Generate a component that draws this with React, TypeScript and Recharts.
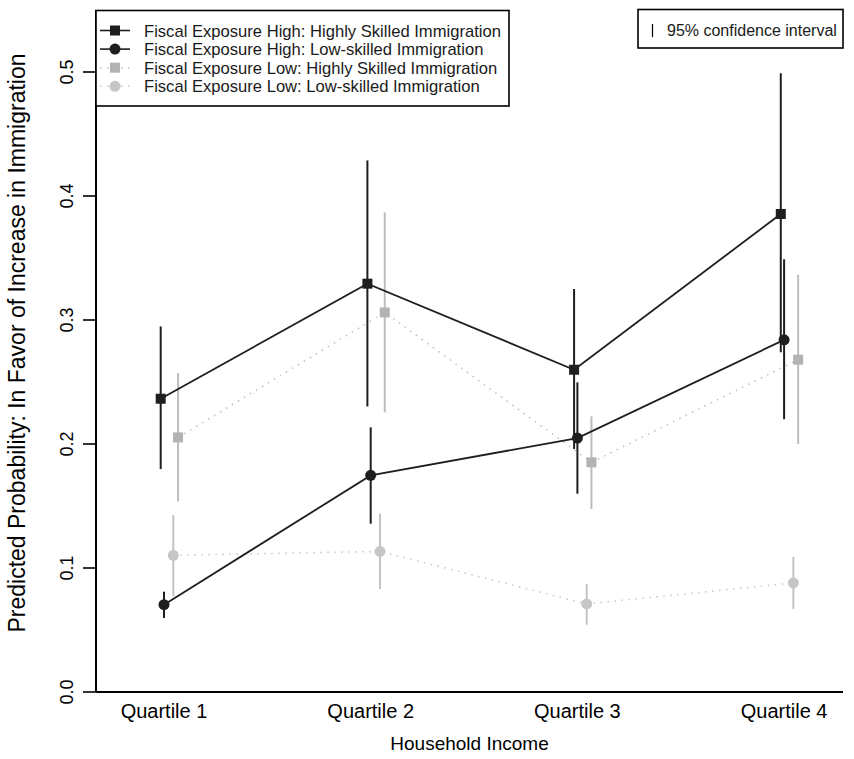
import React from 'react';
import { ComposedChart, Scatter, ErrorBar, XAxis, YAxis } from 'recharts';

const categories = ['Quartile 1', 'Quartile 2', 'Quartile 3', 'Quartile 4'];
const yTicks = [0, 0.1, 0.2, 0.3, 0.4, 0.5];

// fiscal exposure high
const highHighSkilled = [0.2365, 0.3293, 0.2599, 0.3855];
const highHighSkilledLo = [0.1798, 0.2303, 0.196, 0.274];
const highHighSkilledHi = [0.2948, 0.4287, 0.325, 0.499];
const highLowSkilled = [0.0704, 0.1747, 0.2048, 0.284];
const highLowSkilledLo = [0.0597, 0.1357, 0.1599, 0.22];
const highLowSkilledHi = [0.0809, 0.2134, 0.2497, 0.349];

// fiscal exposure low
const lowHighSkilled = [0.2053, 0.3061, 0.1852, 0.268];
const lowHighSkilledLo = [0.1537, 0.2255, 0.1476, 0.2];
const lowHighSkilledHi = [0.2572, 0.3868, 0.2223, 0.3365];
const lowLowSkilled = [0.1102, 0.1134, 0.071, 0.088];
const lowLowSkilledLo = [0.0771, 0.0831, 0.0543, 0.067];
const lowLowSkilledHi = [0.1427, 0.1438, 0.0871, 0.109];

const FONT = '"Liberation Sans", Arial, Helvetica, sans-serif';
const DARK = '#1e1e1e';

type Series = {
  name: string;
  est: number[];
  lo: number[];
  hi: number[];
  shift: number;
  shape: 'square' | 'circle';
  fill: string;
  barColor: string;
  lineColor: string;
  dash?: string;
};

const series: Series[] = [
  { name: 'Fiscal Exposure High: Highly Skilled Immigration', est: highHighSkilled, lo: highHighSkilledLo, hi: highHighSkilledHi, shift: -0.016, shape: 'square', fill: DARK, barColor: DARK, lineColor: DARK },
  { name: 'Fiscal Exposure High: Low-skilled Immigration', est: highLowSkilled, lo: highLowSkilledLo, hi: highLowSkilledHi, shift: 0, shape: 'circle', fill: DARK, barColor: DARK, lineColor: DARK },
  { name: 'Fiscal Exposure Low: Highly Skilled Immigration', est: lowHighSkilled, lo: lowHighSkilledLo, hi: lowHighSkilledHi, shift: 0.068, shape: 'square', fill: '#b3b3b3', barColor: '#bdbdbd', lineColor: '#c2c2c2', dash: '1.5 5.5' },
  { name: 'Fiscal Exposure Low: Low-skilled Immigration', est: lowLowSkilled, lo: lowLowSkilledLo, hi: lowLowSkilledHi, shift: 0.045, shape: 'circle', fill: '#c6c6c6', barColor: '#c2c2c2', lineColor: '#c8c8c8', dash: '1.5 5.5' },
];

const toRows = (s: Series) =>
  categories.map((c, i) => ({
    x: i + 1 + s.shift,
    y: s.est[i],
    ci: [s.est[i] - s.lo[i], s.hi[i] - s.est[i]],
  }));

const marker = (s: Series) => (p: any) =>
  s.shape === 'square' ? (
    <rect x={p.cx - 5} y={p.cy - 5} width={10} height={10} fill={s.fill} />
  ) : (
    <circle cx={p.cx} cy={p.cy} r={5.5} fill={s.fill} />
  );

const YTick = (p: any) => (
  <text
    transform={`translate(${p.x - 8},${p.y}) rotate(-90)`}
    textAnchor="middle"
    fontSize={18}
    fontFamily={FONT}
    fill="#000"
  >
    {p.payload.value.toFixed(1)}
  </text>
);

const XTick = (p: any) => (
  <text x={p.x} y={p.y + 26} textAnchor="middle" fontSize={20} fontFamily={FONT} fill="#000">
    {categories[Math.round(p.payload.value) - 1]}
  </text>
);

const LegendOverlay = () => (
  <svg width={854} height={759} style={{ position: 'absolute', left: 0, top: 0, pointerEvents: 'none' }}>
    <rect x={96} y={10.5} width={413} height={95.5} fill="#fff" stroke="#000" strokeWidth={1.6} />
    {series.map((s, i) => {
      const cy = 30.5 + i * 18.6;
      return (
        <g key={s.name}>
          <line x1={100} x2={130} y1={cy} y2={cy} stroke={s.lineColor} strokeWidth={1.6} strokeDasharray={s.dash} />
          {s.shape === 'square' ? (
            <rect x={110} y={cy - 5} width={10} height={10} fill={s.fill} />
          ) : (
            <circle cx={115} cy={cy} r={5.5} fill={s.fill} />
          )}
          <text x={144} y={cy + 6} fontSize={16.6} fontFamily={FONT} fill="#1a1a1a">
            {s.name}
          </text>
        </g>
      );
    })}
    <rect x={638} y={9.5} width={205} height={38.5} fill="#fff" stroke="#000" strokeWidth={1.6} />
    <line x1={652.5} x2={652.5} y1={24} y2={37} stroke="#000" strokeWidth={1.2} />
    <text x={667} y={36} fontSize={16} fontFamily={FONT} fill="#1a1a1a">
      95% confidence interval
    </text>
  </svg>
);

export default function App() {
  return (
    <div style={{ position: 'absolute', left: 0, top: 0, width: 854, height: 759, background: '#fff' }}>
      <ComposedChart width={854} height={759} margin={{ top: 10, right: 11, bottom: 0, left: 0 }}>
        <XAxis
          type="number"
          dataKey="x"
          domain={[0.671, 4.285]}
          ticks={[1, 2, 3, 4]}
          tick={<XTick />}
          tickLine={false}
          tickSize={0}
          tickMargin={0}
          height={67}
          axisLine={{ stroke: '#000', strokeWidth: 2 }}
          allowDataOverflow
          label={({ viewBox }: any) => (
            <text
              x={viewBox.x + viewBox.width / 2}
              y={viewBox.y + 58}
              textAnchor="middle"
              fontSize={19}
              fontFamily={FONT}
              fill="#000"
            >
              Household Income
            </text>
          )}
        />
        <YAxis
          type="number"
          dataKey="y"
          domain={[0, 0.55]}
          ticks={yTicks}
          tick={<YTick />}
          tickSize={13}
          tickMargin={2}
          width={96}
          tickLine={{ stroke: '#000', strokeWidth: 1.6 }}
          axisLine={{ stroke: '#000', strokeWidth: 2 }}
          allowDataOverflow
          label={({ viewBox }: any) => (
            <text
              transform={`translate(25,${viewBox.y + viewBox.height / 2 - 8}) rotate(-90)`}
              textAnchor="middle"
              fontSize={23}
              fontFamily={FONT}
              fill="#000"
            >
              Predicted Probability: In Favor of Increase in Immigration
            </text>
          )}
        />
        {[...series].reverse().map((s) => (
          <Scatter
            key={s.name}
            name={s.name}
            data={toRows(s)}
            isAnimationActive={false}
            line={{ stroke: s.lineColor, strokeWidth: s.dash ? 1.6 : 1.8, strokeDasharray: s.dash }}
            lineType="joint"
            shape={marker(s)}
          >
            <ErrorBar dataKey="ci" direction="y" width={0} stroke={s.barColor} strokeWidth={2} isAnimationActive={false} />
          </Scatter>
        ))}
      </ComposedChart>
      <LegendOverlay />
    </div>
  );
}
